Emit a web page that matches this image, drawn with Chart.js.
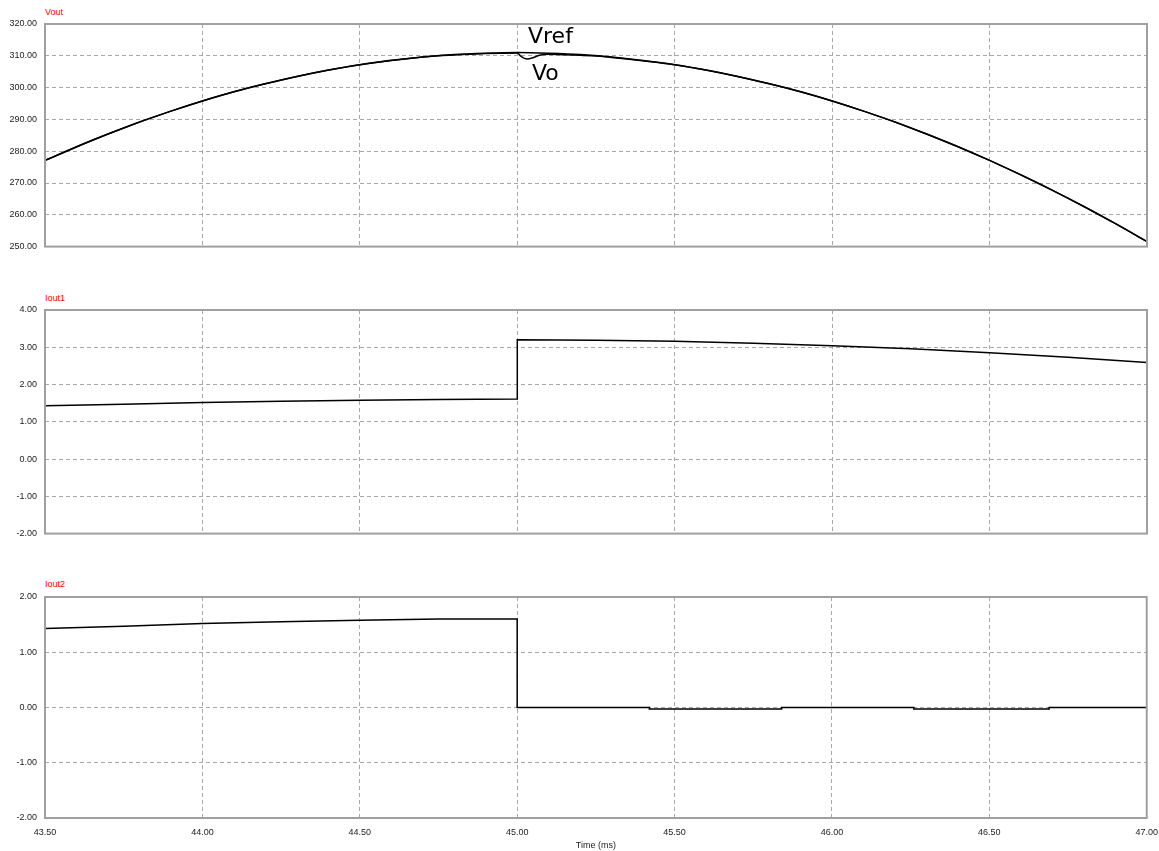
<!DOCTYPE html>
<html>
<head>
<meta charset="utf-8">
<script src="https://cdn.jsdelivr.net/npm/chart.js@4/dist/chart.umd.min.js"></script>
<style>
body { margin: 0; background: #fff; width: 1159px; height: 851px; position: relative; overflow: hidden; font-family: "Liberation Sans", Arial, sans-serif; }
canvas { position: absolute; left: 0; }
.ttl { position: absolute; left: 45px; font-size: 9px; color: #ff0000; }
.note { position: absolute; font-family: "DejaVu Sans", sans-serif; font-size: 22px; line-height: 26px; color: #000; }
</style>
</head>
<body>
<div class="ttl" style="top:7px">Vout</div>
<div class="ttl" style="top:293px">Iout1</div>
<div class="ttl" style="top:579px">Iout2</div>
<canvas id="c1" width="1159" height="260" style="top:0px"></canvas>
<canvas id="c2" width="1159" height="261" style="top:286px"></canvas>
<canvas id="c3" width="1167" height="278" style="top:573px"></canvas>
<div class="note" style="left:528px;top:23px">Vref</div>
<div class="note" style="left:532px;top:60px">Vo</div>
<script>
// time axis (ms)
var xTicks = [43.5, 44.0, 44.5, 45.0, 45.5, 46.0, 46.5, 47.0];

// Vout panel
var vrefTime = [43.5, 43.6, 43.7, 43.8, 43.9, 44.0, 44.1, 44.2, 44.3, 44.4, 44.5, 44.6, 44.7, 44.8, 44.9, 45.0,
    45.1, 45.2, 45.3, 45.4, 45.5, 45.6, 45.7, 45.8, 45.9, 46.0, 46.1, 46.2, 46.3, 46.4, 46.5, 46.6, 46.7, 46.8, 46.9, 47.0];
var vref = [277.1, 281.4, 285.4, 289.2, 292.6, 295.8, 298.7, 301.2, 303.5, 305.5, 307.2, 308.5, 309.6, 310.4, 310.8, 311.0,
    310.8, 310.4, 309.6, 308.5, 307.2, 305.5, 303.5, 301.2, 298.7, 295.8, 292.6, 289.2, 285.4, 281.4, 277.1, 272.5, 267.7, 262.6, 257.2, 251.6];
var voTime = [43.5, 43.7, 43.9, 44.1, 44.3, 44.5, 44.7, 44.9, 45.0, 45.01, 45.03, 45.05, 45.07, 45.1, 45.15, 45.2, 45.25,
    45.3, 45.5, 45.7, 45.9, 46.1, 46.3, 46.5, 46.7, 46.9, 47.0];
var vo = [277.1, 285.4, 292.6, 298.7, 303.5, 307.2, 309.6, 310.7, 310.9, 310.0, 309.0, 309.4, 310.2, 310.5, 310.3, 310.2, 309.9,
    309.5, 307.2, 303.5, 298.7, 292.6, 285.4, 277.1, 267.7, 257.2, 251.6];
var vTicks = [250, 260, 270, 280, 290, 300, 310, 320];

// Iout1 panel
var i1Time = [43.5, 43.75, 44.0, 44.25, 44.5, 44.75, 45.0, 45.0, 45.25, 45.5, 45.75, 46.0, 46.25, 46.5, 46.75, 47.0];
var iout1 = [1.43, 1.47, 1.52, 1.55, 1.58, 1.60, 1.61, 3.20, 3.19, 3.16, 3.11, 3.04, 2.96, 2.85, 2.73, 2.59];
var i1Ticks = [-2, -1, 0, 1, 2, 3, 4];

// Iout2 panel
var i2Time = [43.5, 43.75, 44.0, 44.25, 44.5, 44.75, 45.0, 45.0, 45.42, 45.42, 45.84, 45.84, 46.26, 46.26, 46.69, 46.69, 47.0];
var iout2 = [1.43, 1.47, 1.52, 1.55, 1.58, 1.60, 1.60, 0.0, 0.0, -0.025, -0.025, 0.0, 0.0, -0.025, -0.025, 0.0, 0.0];
var i2Ticks = [-2, -1, 0, 1, 2];

function pts(xs, ys) {
    var out = [];
    for (var i = 0; i < xs.length; i++) out.push({ x: xs[i], y: ys[i] });
    return out;
}

var frame = {
    id: 'frame',
    afterDraw: function (chart) {
        var a = chart.chartArea, ctx = chart.ctx;
        ctx.save();
        ctx.strokeStyle = '#a0a0a0';
        ctx.lineWidth = 2;
        ctx.strokeRect(a.left, a.top, a.right - a.left, a.bottom - a.top);
        ctx.restore();
    }
};

function makeChart(id, datasets, yMin, yMax, yTicks, bottom) {
    var grid = { color: '#a8a8a8', drawTicks: false, lineWidth: 1 };
    var tickFont = { family: 'Liberation Sans', size: 9 };
    return new Chart(document.getElementById(id), {
        type: 'line',
        data: { datasets: datasets },
        plugins: [frame],
        options: {
            responsive: false,
            animation: false,
            devicePixelRatio: 1,
            layout: { padding: { top: 24, right: 12, left: 0, bottom: bottom ? 0 : 10 } },
            plugins: { legend: { display: false }, tooltip: { enabled: false } },
            elements: { point: { radius: 0 } },
            scales: {
                x: {
                    type: 'linear', min: 43.5, max: 47,
                    grid: grid,
                    border: { display: false, dash: [4, 3] },
                    afterBuildTicks: function (s) { s.ticks = xTicks.map(function (v) { return { value: v }; }); },
                    ticks: {
                        display: bottom, padding: 9, color: '#222', maxRotation: 0,
                        font: tickFont,
                        callback: function (v) { return v.toFixed(2); }
                    },
                    title: {
                        display: bottom, text: 'Time (ms)', color: '#222', padding: 0,
                        font: tickFont
                    },
                    afterFit: function (s) { s.height = bottom ? 33 : 0; }
                },
                y: {
                    min: yMin, max: yMax,
                    grid: grid,
                    border: { display: false, dash: [4, 3] },
                    afterBuildTicks: function (s) { s.ticks = yTicks.map(function (v) { return { value: v }; }); },
                    ticks: {
                        padding: 8, color: '#222',
                        font: tickFont,
                        callback: function (v) { return v.toFixed(2); }
                    },
                    afterFit: function (s) { s.width = 45; }
                }
            }
        }
    });
}

makeChart('c1', [
    { data: pts(vrefTime, vref), borderColor: '#000', borderWidth: 1.5, cubicInterpolationMode: 'monotone' },
    { data: pts(voTime, vo), borderColor: '#000', borderWidth: 1.5, cubicInterpolationMode: 'monotone' }
], 250, 320, vTicks, false);

makeChart('c2', [
    { data: pts(i1Time, iout1), borderColor: '#000', borderWidth: 1.5, tension: 0 }
], -2, 4, i1Ticks, false);

makeChart('c3', [
    { data: pts(i2Time, iout2), borderColor: '#000', borderWidth: 1.5, tension: 0 }
], -2, 2, i2Ticks, true);
</script>
</body>
</html>
